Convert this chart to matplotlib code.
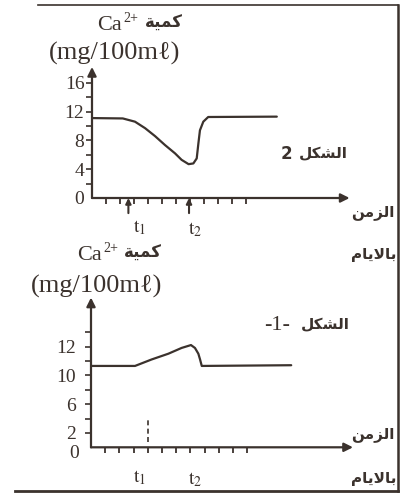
import numpy as np
import matplotlib
matplotlib.use("Agg")
import matplotlib.pyplot as plt
from matplotlib.lines import Line2D
from matplotlib.scale import FuncScale
from matplotlib.transforms import ScaledTranslation

plt.rcParams['font.family'] = ['Liberation Serif', 'DejaVu Sans']
plt.rcParams['mathtext.fontset'] = 'stix'

INK = '#3b322d'

# ---------------- data ----------------
# Figure 2 (top): Ca2+ (mg/100ml) versus time in days
top_days = [0, 2.2, 3.07, 3.79, 4.5, 5.21, 5.93, 6.4, 6.9, 7.24, 7.48, 7.6, 7.71, 7.95, 8.3, 13.2]
top_ca = [11.1, 11.05, 10.6, 9.7, 8.6, 7.36, 6.2, 5.3, 4.7, 4.8, 5.5, 7.6, 9.4, 10.6, 11.25, 11.3]
top_yticks = [0, 4, 8, 12, 16]
top_yminor = [2, 6, 10, 14]
top_t = [2.6, 6.93]

# Figure 1 (bottom)
bot_days = [0, 3.1, 4.27, 5.45, 6.38, 7.04, 7.32, 7.56, 7.68, 7.8, 14.1]
bot_ca = [10.65, 10.65, 11.1, 11.5, 11.9, 12.1, 11.9, 11.5, 11.1, 10.65, 10.7]
bot_yticks = [0, 2, 6, 10, 12]
bot_yminor = [4, 8, 11, 13]
bot_t = [3.1, 7.1]
bot_mark = 4.0

day_ticks = list(range(1, 12))

# Arabic words (visual order, presentation forms)
W_KAMMIYA = "\uFE94\uFEF4\uFEE4\uFEDB"            # كمية
W_SHAKL = "\uFEDE\uFEDC\uFEB8\uFEDF\uFE8D"         # الشكل
W_ZAMAN = "\uFEE6\uFEE3\uFEB0\uFEDF\uFE8D"         # الزمن
W_AYYAM = "\uFEE1\uFE8E\uFEF3\uFEFB\uFE8E\uFE91"   # بالايام

W, H = 403, 497
fig = plt.figure(figsize=(W / 100, H / 100), dpi=100)


def fx(x):
    return x / W


def fy(y):
    return 1 - y / H


def add_axes_px(left, right, top, bottom):
    return fig.add_axes([fx(left), fy(bottom), fx(right) - fx(left), fy(top) - fy(bottom)])


def style_axes(ax, xmax_arrow, ytop_arrow, ylab_pad):
    for s in ax.spines.values():
        s.set_visible(False)
    ax.set_xticks(day_ticks)
    ax.set_xticklabels([])
    ax.tick_params(axis='x', direction='out', length=4, width=1.3, color=INK)
    ax.tick_params(axis='y', which='both', direction='out', length=4, width=1.2,
                   color=INK, labelsize=14, labelcolor=INK, pad=ylab_pad)
    ax.yaxis.get_major_ticks()[0].tick1line.set_visible(False)
    ax.patch.set_alpha(0)
    arrow = dict(arrowstyle='-|>', color=INK, lw=1.6, mutation_scale=13,
                 shrinkA=0, shrinkB=0)
    ax.annotate('', xy=(xmax_arrow, 0), xytext=(0, 0), arrowprops=arrow,
                annotation_clip=False)
    ax.annotate('', xy=(0, ytop_arrow), xytext=(0, 0), arrowprops=arrow,
                annotation_clip=False)


def up_arrow(ax, x, y0, y1):
    ax.annotate('', xy=(x, y1), xytext=(x, y0),
                arrowprops=dict(arrowstyle='-|>', color=INK, lw=1.5,
                                mutation_scale=8, shrinkA=0, shrinkB=0),
                annotation_clip=False)


# ---------------- top chart ----------------
ax1 = add_axes_px(92, 92 + 19 * 14, 198 - 18.5 * 7.2, 198)
ax1.set_xlim(0, 19)
ax1.set_ylim(0, 18.5)
ax1.set_yticks(top_yticks)
ax1.set_yticks(top_yminor, minor=True)
style_axes(ax1, 18.4, 18.2, 1.5)
ax1.plot(top_days, top_ca, color=INK, lw=1.6, solid_capstyle='round')
for t in top_t:
    up_arrow(ax1, t, -2.1, 0)

# ---------------- bottom chart (non-uniform value axis as drawn) ----------------
v_pts = [0, 10, 12, 16]
k_pts = [0, 5, 7, 11]


def fwd(v):
    return np.interp(v, v_pts, k_pts)


def inv(k):
    return np.interp(k, k_pts, v_pts)


ax2 = add_axes_px(91, 91 + 19 * 14.2, 447.3 - 10.6 * 14.4, 447.3)
ax2.set_yscale(FuncScale(ax2, (fwd, inv)))
ax2.set_xlim(0, 19)
ax2.set_ylim(0, inv(10.6))
ax2.set_yticks(bot_yticks)
ax2.set_yticks(bot_yminor, minor=True)
ax2.set_yticklabels([str(v) for v in bot_yticks])
ax2.yaxis.set_minor_formatter(plt.NullFormatter())
style_axes(ax2, 18.45, inv(10.4), 7)
zero_lab = ax2.get_yticklabels()[0]
zero_lab.set_transform(zero_lab.get_transform() + ScaledTranslation(3 / 100, -4 / 100, fig.dpi_scale_trans))
ax2.plot(bot_days, bot_ca, color=INK, lw=1.6, solid_capstyle='round')
for t in bot_t:
    up_arrow(ax2, t, -0.8, 0)
ax2.plot([bot_mark, bot_mark], [0.75, 4.1], color=INK, lw=1.2, ls=(0, (3, 2)))

# ---------------- texts ----------------
def txt(x, y, s, **kw):
    kw.setdefault('color', INK)
    kw.setdefault('va', 'center')
    fig.text(fx(x), fy(y), s, **kw)

AR = ['DejaVu Sans']

# top chart labels
txt(97, 26, 'Ca', fontsize=16, ha='left')
txt(123, 19, '2+', fontsize=10, ha='left')
txt(183, 23, W_KAMMIYA, family=AR, fontsize=12, fontweight='bold', ha='right')
txt(115, 53, '(mg/100m\u2113)', fontsize=19, ha='center')
txt(286, 154, '2', family=AR, fontsize=12, fontweight='bold', ha='center')
txt(348, 154, W_SHAKL, family=AR, fontsize=11, fontweight='bold', ha='right')
txt(395, 212, W_ZAMAN, family=AR, fontsize=11, fontweight='bold', ha='right')
txt(396, 254, W_AYYAM, family=AR, fontsize=11, fontweight='bold', ha='right')
txt(140, 228, r'$\mathrm{t}_1$', fontsize=14, ha='center')
txt(195, 230, r'$\mathrm{t}_2$', fontsize=14, ha='center')

# bottom chart labels
txt(77, 256, 'Ca', fontsize=16, ha='left')
txt(103, 249, '2+', fontsize=10, ha='left')
txt(162, 253, W_KAMMIYA, family=AR, fontsize=12, fontweight='bold', ha='right')
txt(97, 286, '(mg/100m\u2113)', fontsize=19, ha='center')
txt(277, 325, '-1-', fontsize=16, ha='center')
txt(350, 325, W_SHAKL, family=AR, fontsize=11, fontweight='bold', ha='right')
txt(395, 434, W_ZAMAN, family=AR, fontsize=11, fontweight='bold', ha='right')
txt(396, 478, W_AYYAM, family=AR, fontsize=11, fontweight='bold', ha='right')
txt(140, 478, r'$\mathrm{t}_1$', fontsize=14, ha='center')
txt(195, 480, r'$\mathrm{t}_2$', fontsize=14, ha='center')

# frame of the scanned figure
for (x0, y0, x1, y1, lw) in [(38, 5, 398, 5, 1.2), (398, 5, 398, 491, 1.8), (15, 491, 398, 491, 2.0)]:
    fig.add_artist(Line2D([fx(x0), fx(x1)], [fy(y0), fy(y1)], color=INK, lw=lw,
                          transform=fig.transFigure))

fig.savefig('out.png', dpi=100, facecolor='white')
